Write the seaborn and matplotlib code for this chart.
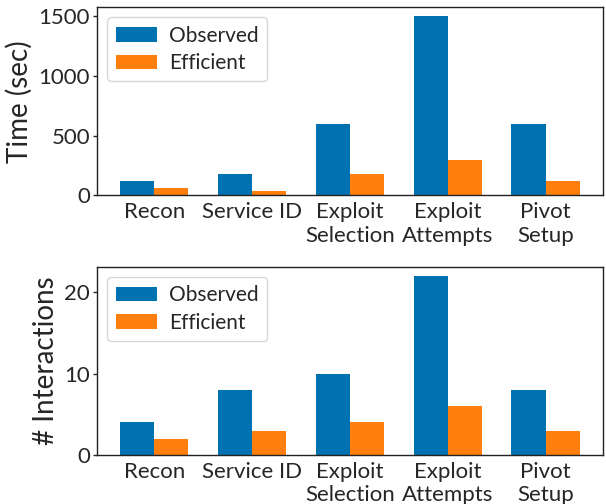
import pandas as pd
import matplotlib.pyplot as plt
import seaborn as sns

stages = ['Recon', 'Service ID', 'Exploit\nSelection', 'Exploit\nAttempts', 'Pivot\nSetup']
time_observed = [120, 180, 600, 1500, 600]
time_efficient = [60, 40, 180, 300, 120]
inter_observed = [4, 8, 10, 22, 8]
inter_efficient = [2, 3, 4, 6, 3]

sns.set_style('white')
plt.rcParams['font.family'] = ['Lato', 'DejaVu Sans']

colors = ['#0072b2', '#ff7f0e']

def long(obs, eff):
    return pd.DataFrame({
        'stage': stages * 2,
        'value': obs + eff,
        'kind': ['Observed'] * len(stages) + ['Efficient'] * len(stages),
    })

fig, axes = plt.subplots(2, 1, figsize=(6.06, 5.04), dpi=100)
panels = [(time_observed, time_efficient, 'Time (sec)'),
          (inter_observed, inter_efficient, '# Interactions')]

for ax, (obs, eff, label) in zip(axes, panels):
    sns.barplot(data=long(obs, eff), x='stage', y='value', hue='kind',
                palette=colors, width=0.7, gap=0, saturation=1, linewidth=0, ax=ax)
    ax.set_xlim(-0.585, 4.585)
    ax.set_ylim(0, max(obs) * 1.05)
    ax.set_xlabel('')
    ax.set_ylabel(label, fontsize=20)
    ax.tick_params(axis='both', labelsize=16, length=3, width=1, bottom=False, left=True, pad=2)
    for s in ax.spines.values():
        s.set_color('#222222')
        s.set_linewidth(1)
    ax.legend(loc='upper left', fontsize=15, title=None, handlelength=2.0,
              labelspacing=0.35, handletextpad=0.55, framealpha=0.8)

axes[0].set_yticks([0, 500, 1000, 1500])
axes[1].set_yticks([0, 10, 20])

fig.subplots_adjust(left=0.16, right=0.995, top=0.986, bottom=0.097, hspace=0.378)
fig.savefig('out.png', dpi=100)
